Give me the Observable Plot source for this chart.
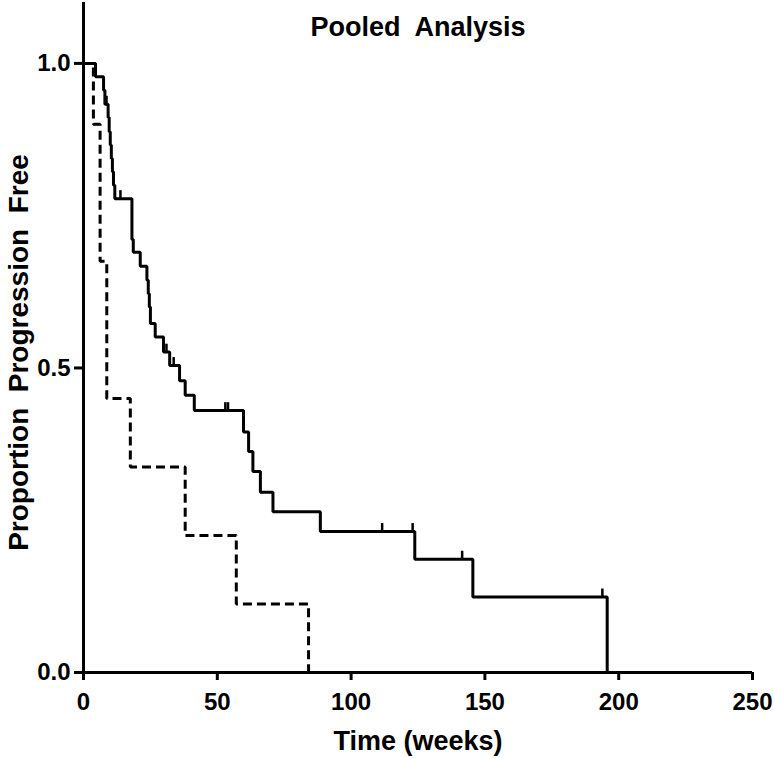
<!DOCTYPE html>
<html>
<head>
<meta charset="utf-8">
<script src="https://cdn.jsdelivr.net/npm/d3@7"></script>
<script src="https://cdn.jsdelivr.net/npm/@observablehq/plot@0.6"></script>
<style>
  html, body { margin: 0; padding: 0; background: #fff; }
  svg text { white-space: pre; }
</style>
</head>
<body>
<div id="chart"></div>
<script>
// Solid curve: step times (weeks) and proportion after each step
const solidTime = [0, 4.5, 7.5, 8.0, 9.2, 9.6, 10.0, 10.4, 10.8, 11.2, 11.7, 18.1, 18.6, 21.2, 23.7, 24.2, 24.6, 25.0, 26.8, 29.9, 32.2, 35.9, 38.0, 41.4, 59.8, 61.7, 63.3, 66.1, 70.8, 88.5, 123.8, 145.5, 195.7];
const solidSurv = [1, 0.978, 0.956, 0.933, 0.911, 0.888, 0.866, 0.844, 0.822, 0.800, 0.778, 0.711, 0.690, 0.667, 0.644, 0.622, 0.600, 0.573, 0.551, 0.526, 0.504, 0.479, 0.455, 0.430, 0.395, 0.363, 0.330, 0.296, 0.264, 0.2315, 0.186, 0.124, 0];
// Solid curve censor marks
const censorTime = [8.6, 13.8, 31.0, 33.7, 53.0, 54.0, 111.6, 123.0, 141.5, 193.9];
const censorSurv = [0.933, 0.778, 0.526, 0.504, 0.430, 0.430, 0.2315, 0.2315, 0.186, 0.124];
// Dashed curve
const dashedTime = [0, 3.7, 6.2, 8.7, 17.5, 38.0, 57.1, 84.1];
const dashedSurv = [1, 0.9, 0.675, 0.45, 0.3375, 0.225, 0.1125, 0];

const xTicks = [0, 50, 100, 150, 200, 250];
const yTicks = [0, 0.5, 1.0];
const titleText = "Pooled  Analysis";
const xLabelText = "Time (weeks)";
const yLabelText = "Proportion  Progression  Free";

const solid = solidTime.map((t, i) => ({t, s: solidSurv[i]}));
const dashed = dashedTime.map((t, i) => ({t, s: dashedSurv[i]}));
const censor = censorTime.map((t, i) => ({t, s: censorSurv[i]}));

const font = "'Liberation Sans', Arial, Helvetica, sans-serif";

const chart = Plot.plot({
  width: 774,
  height: 758,
  marginLeft: 83,
  marginRight: 22,
  marginTop: 2,
  marginBottom: 86,
  x: {domain: [0, 250]},
  y: {domain: [0, 1.1]},
  style: {fontFamily: font, fontWeight: "bold", background: "white", color: "black"},
  marks: [
    Plot.axisX({ticks: xTicks, tickSize: 8, tickPadding: 12, fontSize: 24, label: null, strokeWidth: 3, tickFormat: d => String(d)}),
    Plot.axisY({ticks: yTicks, tickSize: 9, tickPadding: 4, fontSize: 24, label: null, strokeWidth: 3, tickFormat: d3.format(".1f")}),
    Plot.ruleY([0], {strokeWidth: 3, stroke: "black"}),
    Plot.ruleX([0], {strokeWidth: 3, stroke: "black"}),
    Plot.line(dashed, {x: "t", y: "s", curve: "step-after", stroke: "black", strokeWidth: 3, strokeDasharray: "9,5", strokeLinecap: "butt", strokeLinejoin: "miter"}),
    Plot.line(solid, {x: "t", y: "s", curve: "step-after", stroke: "black", strokeWidth: 3, strokeLinecap: "butt", strokeLinejoin: "miter"}),
    Plot.ruleX(censor, {x: "t", y1: "s", y2: d => d.s + 0.013, stroke: "black", strokeWidth: 2.5}),
    Plot.text([titleText], {text: d => d, frameAnchor: "top", lineAnchor: "middle", dy: 25, fontSize: 27, fontWeight: "bold", fill: "black"}),
    Plot.text([xLabelText], {text: d => d, frameAnchor: "bottom", lineAnchor: "middle", dy: 69, fontSize: 27, fontWeight: "bold", fill: "black"}),
    Plot.text([yLabelText], {text: d => d, frameAnchor: "left", textAnchor: "middle", lineAnchor: "middle", dx: -64, dy: 15, rotate: -90, fontSize: 28, fontWeight: "bold", fill: "black"})
  ]
});
document.getElementById("chart").appendChild(chart);
</script>
</body>
</html>
